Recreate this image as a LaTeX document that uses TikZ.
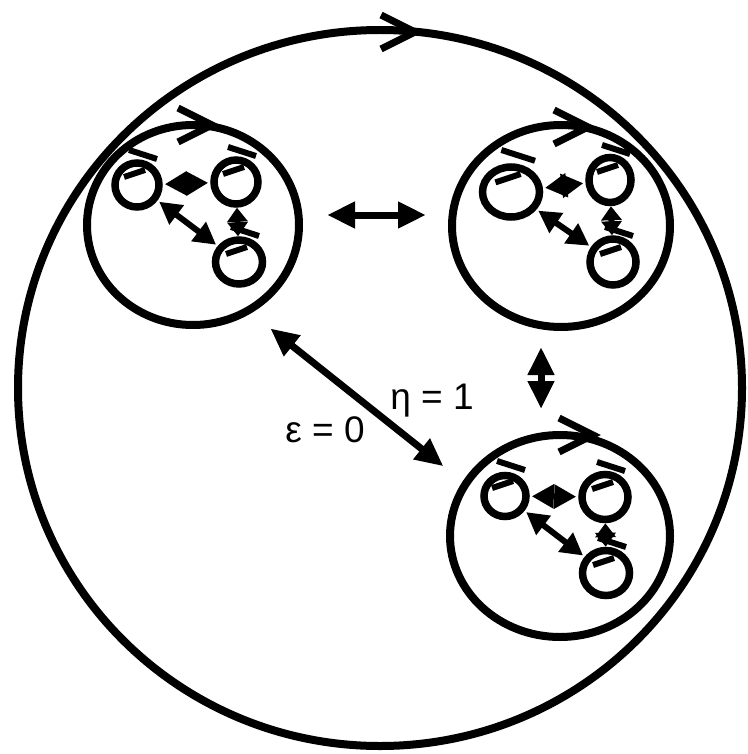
\documentclass[tikz,border=0pt]{standalone}
\usepackage{fontspec}
\setmainfont{Liberation Sans}
\usetikzlibrary{arrows.meta,shapes.geometric}

\tikzset{
  ring/.style={draw,ellipse,line width=8pt,inner sep=0pt},
  dot/.style={draw,ellipse,line width=7.5pt,inner sep=0pt,minimum width=44pt,minimum height=44pt},
  link/.style={line width=7pt,{Triangle[length=28pt,width=25pt]}-{Triangle[length=28pt,width=25pt]}},
  pair/.style={line width=6pt,shorten <=2pt,shorten >=2pt,{Triangle[length=22pt,width=23pt]}-{Triangle[length=22pt,width=23pt]}},
  stack/.style={line width=6pt,{Triangle[length=14pt,width=20pt]}-{Triangle[length=14pt,width=20pt]}},
  label/.style={font=\fontsize{37}{42}\selectfont,inner sep=0pt},
  turnmark/.pic={\draw[line width=7pt] (-34,-17) -- (0,0) -- (-34,17);},
  loopmark/.pic={\draw[line width=6pt] (-8,-35) -- (20,-26);
                 \draw[line width=6pt] (-13,-8) -- (8,-15);}
}

\begin{document}
\begin{tikzpicture}[x=1pt,y=-1pt]
    \useasboundingbox (0,0) rectangle (747,754);
    % outer loop
    \node[ring,minimum width=724pt,minimum height=716pt] (world) at (380,388) {};
    \pic at (415,32) {turnmark};
    % top left group
    \node[ring,minimum width=212pt,minimum height=200pt] (tl) at (193,225) {};
    \pic at (212,125) {turnmark};
    \node[dot] (tla) at (137,185) {};
    \node[dot] (tlb) at (236,182) {};
    \node[dot,minimum width=47pt] (tlc) at (239,262) {};
    \pic at (tla) {loopmark};
    \pic at (tlb) {loopmark};
    \pic at (tlc) {loopmark};
    \draw[pair] (tla) -- (tlb);
    \draw[pair] (tla) -- (tlc);
    \draw[stack] (tlb) -- (tlc);
    % top right group
    \node[ring,minimum width=218pt,minimum height=202pt] (tr) at (561,226) {};
    \pic at (588,127) {turnmark};
    \node[dot,minimum width=57pt,minimum height=50pt] (tra) at (511,192) {};
    \node[dot,minimum width=42pt,minimum height=45pt] (trb) at (610,180) {};
    \node[dot,minimum width=46pt,minimum height=46pt] (trc) at (613,262) {};
    \pic[scale=1.2] at (tra) {loopmark};
    \pic at (trb) {loopmark};
    \pic at (trc) {loopmark};
    \draw[pair] (tra) -- (trb);
    \draw[pair] (tra) -- (trc);
    \draw[stack] (trb) -- (trc);
    % bottom right group
    \node[ring,minimum width=220pt,minimum height=202pt] (br) at (560,536) {};
    \pic at (593,435) {turnmark};
    \node[dot,minimum width=42pt,minimum height=41pt] (bra) at (505,496) {};
    \node[dot,minimum width=46pt,minimum height=45pt] (brb) at (605,497) {};
    \node[dot,minimum width=47pt,minimum height=45pt] (brc) at (606,573) {};
    \pic at (bra) {loopmark};
    \pic at (brb) {loopmark};
    \pic at (brc) {loopmark};
    \draw[pair] (bra) -- (brb);
    \draw[pair] (bra) -- (brc);
    \draw[stack] (brb) -- (brc);
    % links between groups
    \draw[link] ([shift={(24,-10)}]tl.east) -- ([shift={(-22,-11)}]tr.west);
    \draw[link] ([shift={(-20,16)}]tr.south) -- ([shift={(-19,-22)}]br.north);
    \draw[link] ([shift={(9,22)}]tl.-50) -- ([shift={(-20,-14)}]br.150);
    % labels
    \node[label] (eta) at (432,401) {η = 1};
    \node[label] (eps) at (325,430) {ε = 0};
\end{tikzpicture}
\end{document}
